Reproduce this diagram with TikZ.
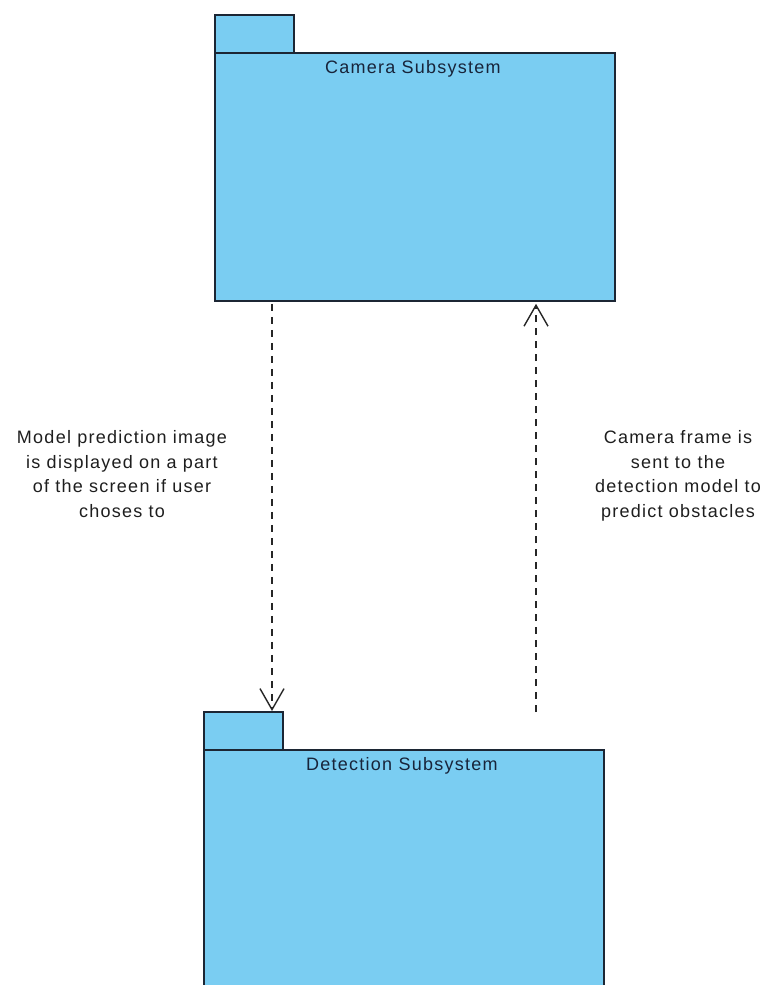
\documentclass[tikz,border=0pt]{standalone}
\usepackage{fontspec}
\setmainfont{Liberation Sans}[LetterSpace=7]
\usetikzlibrary{arrows.meta,calc}
\definecolor{pkgfill}{RGB}{122,205,242}
\definecolor{pkgline}{RGB}{28,38,52}
\definecolor{pkgtext}{RGB}{24,36,58}
\definecolor{notetext}{RGB}{30,30,30}
\begin{document}
\begin{tikzpicture}[x=1pt,y=-1pt,
  pkgpart/.style={draw=pkgline, fill=pkgfill, line width=1.8pt,
    inner sep=0pt, anchor=north west},
  pkgtab/.style={pkgpart, minimum width=79pt, minimum height=38pt},
  pkgbody/.style={pkgpart, minimum width=400pt},
  pkgname/.style={text=pkgtext, font=\fontsize{18}{20}\selectfont,
    inner sep=0pt, anchor=mid},
  note/.style={text=notetext, align=center, inner sep=0pt,
    font=\fontsize{18}{24.5}\selectfont},
  dep/.style={draw=black!85, line width=1.4pt, dash pattern=on 7pt off 6pt,
    -{Straight Barb[length=21pt,width=24pt,line width=1.4pt]}}
]
\clip (0,0) rectangle (766,985);

% Camera package
\node[pkgtab] (camtab) at (214,14) {};
\node[pkgbody, minimum height=248pt] (cam) at (214,52) {};
\node[pkgname] (camname) at ($(cam.north)+(-2,19)$) {Camera Subsystem};

% Detection package (runs past the lower edge)
\node[pkgtab] (dettab) at (203,711) {};
\node[pkgbody, minimum height=280pt] (det) at (203,749) {};
\node[pkgname] (detname) at ($(det.north)+(-2,19)$) {Detection Subsystem};

% Dependencies
\coordinate (downstart) at ($(cam.south west)+(58,2)$);
\draw[dep] (downstart) -- (downstart |- dettab.north);
\coordinate (upstart) at (536,712);
\draw[dep] (upstart) -- ($(upstart |- cam.south)+(0,2)$);

% Labels
\node[note] (downlabel) at (122,474)
  {Model prediction image\\is displayed on a part\\of the screen if user\\choses to};
\node[note] (uplabel) at (678,476)
  {Camera frame is\\sent to the\\detection model to\\predict obstacles};
\end{tikzpicture}
\end{document}
